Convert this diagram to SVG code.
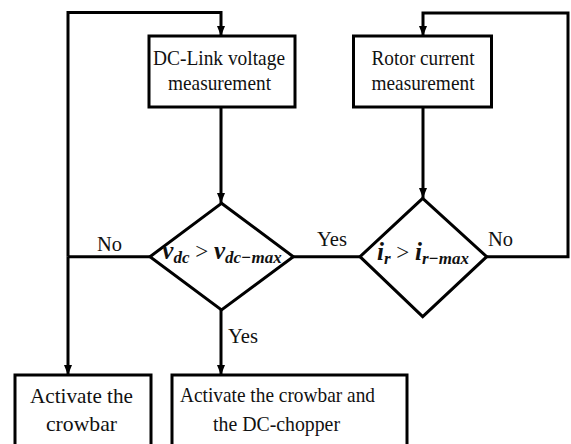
<svg xmlns="http://www.w3.org/2000/svg" width="571" height="444" viewBox="0 0 571 444">
<defs>
<marker id="ah" markerUnits="userSpaceOnUse" markerWidth="10" markerHeight="10" viewBox="0 0 10 10" refX="10" refY="5" orient="auto">
<path d="M0,1 L10,5 L0,9 Z" fill="#000"/>
</marker>
</defs>
<style>
.box{fill:#fff;stroke:#000;stroke-width:3}
.dia{fill:#fff;stroke:#000;stroke-width:3;stroke-linejoin:miter}
.ln{fill:none;stroke:#000;stroke-width:3}
.arr{fill:none;stroke:#000;stroke-width:3;marker-end:url(#ah)}
.t{font-family:"Liberation Serif","Times New Roman",serif;font-size:21px;fill:#111}
.m{font-family:"Liberation Serif","Times New Roman",serif;font-weight:bold;font-style:italic;fill:#111}
</style>
<rect width="571" height="444" fill="#fff"/>
<g id="connectors">
<path class="ln" d="M150,256.7 H68"/>
<path class="arr" d="M68,256.7 V12.5 H221 V36"/>
<path class="arr" d="M68,256.7 V375"/>
<path class="arr" d="M221,107 V203"/>
<path class="arr" d="M221,310 V375"/>
<path class="ln" d="M293,256.7 H360"/>
<path class="arr" d="M486.7,256.7 H568 V13 H423 V36"/>
<path class="arr" d="M423,107 V198"/>
</g>
<g id="dclink">
<rect class="box" x="149" y="36" width="146" height="71"/>
<text class="t" x="153" y="64.5" textLength="132" lengthAdjust="spacingAndGlyphs">DC-Link voltage</text>
<text class="t" x="168" y="90" font-size="22" textLength="103" lengthAdjust="spacingAndGlyphs">measurement</text>
</g>
<g id="rotor">
<rect class="box" x="353.5" y="36" width="138" height="71"/>
<text class="t" x="371.5" y="64.5" textLength="103" lengthAdjust="spacingAndGlyphs">Rotor current</text>
<text class="t" x="371.5" y="90" font-size="22" textLength="103" lengthAdjust="spacingAndGlyphs">measurement</text>
</g>
<g id="dec-vdc">
<path class="dia" d="M221.5,203.3 L293.3,256.7 L221.5,310 L150,256.7 Z"/>
<text class="m" x="222" y="259" text-anchor="middle" font-size="25">v<tspan font-size="17" dy="4">dc</tspan><tspan font-weight="normal" font-style="normal" font-size="23" dy="-4"> &gt; </tspan>v<tspan font-size="17" dy="4">dc−max</tspan></text>
</g>
<g id="dec-ir">
<path class="dia" d="M422.7,198.3 L486.7,256.7 L422.7,316.7 L360,256.7 Z"/>
<text class="m" x="423" y="260" text-anchor="middle" font-size="25">i<tspan font-size="17" dy="4">r</tspan><tspan font-weight="normal" font-style="normal" font-size="23" dy="-4"> &gt; </tspan>i<tspan font-size="17" dy="4">r−max</tspan></text>
</g>
<g id="crowbar">
<rect class="box" x="15" y="375" width="136" height="80"/>
<text class="t" x="30" y="403" font-size="25" textLength="103" lengthAdjust="spacingAndGlyphs">Activate the</text>
<text class="t" x="46" y="431" font-size="25" textLength="71" lengthAdjust="spacingAndGlyphs">crowbar</text>
</g>
<g id="chopper">
<rect class="box" x="172" y="375" width="235" height="80"/>
<text class="t" x="180" y="402" font-size="24" textLength="195" lengthAdjust="spacingAndGlyphs">Activate the crowbar and</text>
<text class="t" x="213" y="430.5" font-size="24" textLength="127" lengthAdjust="spacingAndGlyphs">the DC-chopper</text>
</g>
<g id="labels">
<text class="t" x="97" y="250.5" font-size="23" textLength="25" lengthAdjust="spacingAndGlyphs">No</text>
<text class="t" x="228" y="343.3" font-size="22" textLength="30" lengthAdjust="spacingAndGlyphs">Yes</text>
<text class="t" x="317" y="246" font-size="22" textLength="30" lengthAdjust="spacingAndGlyphs">Yes</text>
<text class="t" x="488" y="246" font-size="23" textLength="25" lengthAdjust="spacingAndGlyphs">No</text>
</g>
</svg>
